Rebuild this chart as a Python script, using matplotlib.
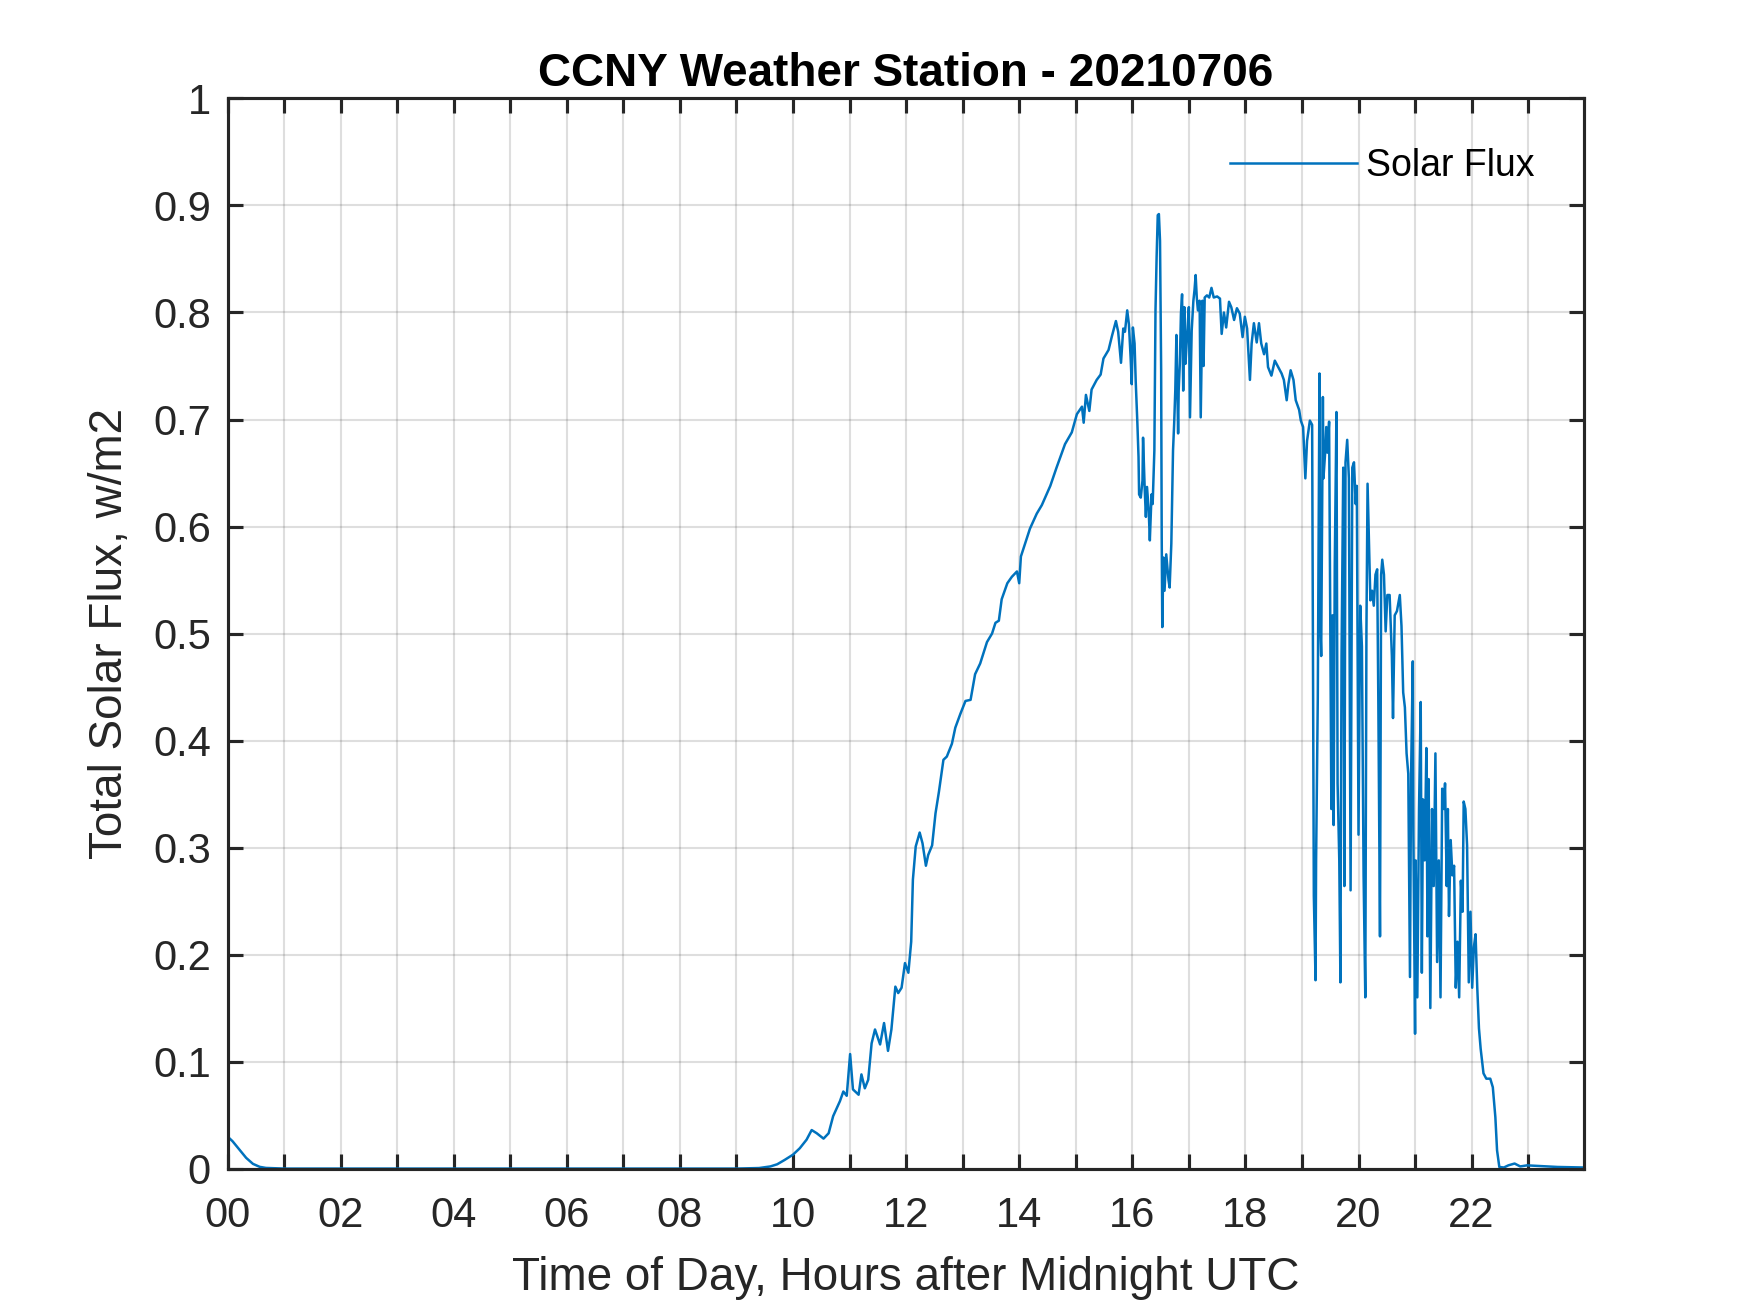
import matplotlib
matplotlib.use("Agg")
import matplotlib.pyplot as plt
from matplotlib.ticker import FixedLocator, FixedFormatter

plt.rcParams['font.family'] = ['Liberation Sans', 'DejaVu Sans']

# Data (hours after midnight UTC, solar flux)
hours = [
    0.00, 0.09, 0.21, 0.33, 0.45, 0.57, 0.68, 0.86, 1.00, 3.00, 6.00, 9.00,
    9.40, 9.60, 9.72, 9.85, 10.00, 10.12, 10.24, 10.33, 10.42, 10.54, 10.63,
    10.71, 10.83, 10.89, 10.95, 11.01, 11.06, 11.16, 11.21, 11.27, 11.33,
    11.39, 11.45, 11.54, 11.61, 11.68, 11.74, 11.81, 11.86, 11.92, 11.98,
    12.04, 12.09, 12.12, 12.17, 12.24, 12.29, 12.35, 12.39, 12.46, 12.52,
    12.58, 12.66, 12.72, 12.81, 12.87, 12.96, 13.05, 13.14, 13.22, 13.31,
    13.43, 13.52, 13.58, 13.64, 13.69, 13.79, 13.87, 13.96, 14.00, 14.03,
    14.11, 14.19, 14.31, 14.40, 14.55, 14.66, 14.81, 14.93, 15.02, 15.11,
    15.14, 15.18, 15.24, 15.28, 15.37, 15.44, 15.49, 15.58, 15.64, 15.71,
    15.75, 15.80, 15.84, 15.87, 15.91, 15.94, 15.97, 15.99, 16.01, 16.04,
    16.06, 16.09, 16.11, 16.12, 16.15, 16.18, 16.19, 16.22, 16.24, 16.26,
    16.29, 16.31, 16.34, 16.36, 16.39, 16.41, 16.43, 16.45, 16.47, 16.49,
    16.51, 16.52, 16.53, 16.55, 16.57, 16.60, 16.64, 16.66, 16.69, 16.72,
    16.74, 16.76, 16.78, 16.81, 16.82, 16.84, 16.86, 16.88, 16.90, 16.92,
    16.94, 16.97, 17.00, 17.02, 17.05, 17.08, 17.10, 17.12, 17.14, 17.16,
    17.19, 17.21, 17.24, 17.26, 17.28, 17.32, 17.36, 17.40, 17.44, 17.50,
    17.55, 17.58, 17.62, 17.66, 17.71, 17.75, 17.80, 17.85, 17.90, 17.95,
    17.99, 18.03, 18.08, 18.11, 18.15, 18.20, 18.24, 18.28, 18.33, 18.37,
    18.40, 18.46, 18.52, 18.58, 18.64, 18.68, 18.73, 18.76, 18.80, 18.85,
    18.89, 18.95, 18.98, 19.02, 19.06, 19.09, 19.14, 19.18,
    19.21, 19.24, 19.25, 19.28, 19.31, 19.32, 19.34, 19.37, 19.38, 19.41,
    19.43, 19.45, 19.48, 19.50, 19.52, 19.54, 19.56, 19.58, 19.61, 19.63,
    19.66, 19.68, 19.70, 19.73, 19.75, 19.77, 19.80, 19.83, 19.86, 19.89,
    19.92, 19.95, 19.97, 20.00, 20.03, 20.06, 20.09, 20.12, 20.14, 20.16,
    20.18, 20.21, 20.24, 20.27, 20.30, 20.33, 20.35, 20.38, 20.40, 20.42,
    20.45, 20.48, 20.51, 20.55, 20.59, 20.61, 20.64, 20.68, 20.73, 20.76,
    20.79, 20.82, 20.85, 20.88, 20.91, 20.93, 20.96, 20.97, 21.00, 21.01,
    21.04, 21.07, 21.10, 21.12, 21.14, 21.17, 21.20, 21.22, 21.24, 21.27,
    21.30, 21.33, 21.36, 21.39, 21.42, 21.45, 21.48, 21.51, 21.53, 21.56,
    21.58, 21.60, 21.63, 21.66, 21.69, 21.72, 21.75, 21.78, 21.81, 21.84,
    21.86, 21.89, 21.92, 21.95, 21.98, 22.01, 22.04, 22.07, 22.10, 22.13,
    22.16, 22.21, 22.26, 22.33, 22.375, 22.42, 22.45, 22.49, 22.57, 22.65,
    22.76, 22.86, 22.98, 23.16, 23.52, 23.983,
]
flux = [
    0.030, 0.0255, 0.0178, 0.010, 0.0044, 0.0016, 0.0006, 0.0003, 0.0, 0.0, 0.0, 0.0,
    0.0005, 0.002, 0.004, 0.008, 0.013, 0.019, 0.027, 0.036, 0.033, 0.028, 0.033,
    0.049, 0.063, 0.072, 0.068, 0.107, 0.074, 0.069, 0.088, 0.075, 0.083,
    0.117, 0.130, 0.116, 0.136, 0.110, 0.130, 0.170, 0.164, 0.169, 0.192,
    0.183, 0.212, 0.270, 0.301, 0.314, 0.304, 0.283, 0.293, 0.302, 0.332,
    0.352, 0.382, 0.385, 0.397, 0.412, 0.425, 0.437, 0.438, 0.462, 0.472,
    0.492, 0.500, 0.510, 0.512, 0.532, 0.547, 0.553, 0.558, 0.547, 0.572,
    0.585, 0.598, 0.612, 0.620, 0.638, 0.655, 0.677, 0.688, 0.705, 0.712,
    0.697, 0.723, 0.708, 0.728, 0.737, 0.742, 0.757, 0.765, 0.778, 0.792,
    0.782, 0.753, 0.785, 0.782, 0.802, 0.789, 0.758, 0.733, 0.786, 0.771,
    0.736, 0.696, 0.665, 0.630, 0.627, 0.643, 0.683, 0.634, 0.609, 0.637,
    0.615, 0.587, 0.630, 0.621, 0.671, 0.802, 0.852, 0.891, 0.892, 0.867,
    0.746, 0.590, 0.506, 0.571, 0.540, 0.574, 0.550, 0.543, 0.584, 0.671,
    0.696, 0.727, 0.779, 0.687, 0.727, 0.752, 0.799, 0.817, 0.727, 0.805,
    0.752, 0.780, 0.805, 0.702, 0.783, 0.811, 0.821, 0.835, 0.814, 0.802,
    0.811, 0.702, 0.811, 0.750, 0.814, 0.816, 0.814, 0.823, 0.814, 0.815,
    0.813, 0.780, 0.800, 0.786, 0.810, 0.805, 0.793, 0.804, 0.799, 0.777,
    0.796, 0.785, 0.737, 0.771, 0.790, 0.772, 0.790, 0.771, 0.761, 0.771,
    0.749, 0.741, 0.755, 0.749, 0.743, 0.737, 0.718, 0.733, 0.746, 0.737,
    0.718, 0.709, 0.699, 0.693, 0.645, 0.680, 0.699, 0.695,
    0.255, 0.176, 0.288, 0.440, 0.743, 0.517, 0.479, 0.721, 0.645, 0.669,
    0.693, 0.669, 0.698, 0.517, 0.336, 0.517, 0.321, 0.564, 0.707, 0.360,
    0.288, 0.174, 0.479, 0.655, 0.264, 0.660, 0.681, 0.645, 0.260, 0.655,
    0.660, 0.621, 0.638, 0.312, 0.526, 0.488, 0.274, 0.160, 0.502, 0.640,
    0.598, 0.531, 0.540, 0.526, 0.555, 0.560, 0.440, 0.217, 0.555, 0.569,
    0.555, 0.502, 0.536, 0.536, 0.479, 0.421, 0.517, 0.521, 0.536, 0.507,
    0.445, 0.431, 0.388, 0.369, 0.179, 0.369, 0.474, 0.312, 0.126, 0.288,
    0.160, 0.336, 0.436, 0.183, 0.345, 0.288, 0.393, 0.217, 0.364, 0.150,
    0.336, 0.264, 0.388, 0.193, 0.288, 0.160, 0.355, 0.336, 0.360, 0.264,
    0.336, 0.236, 0.307, 0.274, 0.283, 0.169, 0.212, 0.160, 0.269, 0.240,
    0.343, 0.336, 0.302, 0.174, 0.240, 0.169, 0.207, 0.219, 0.169, 0.131,
    0.112, 0.089, 0.084, 0.084, 0.076, 0.048, 0.017, 0.0015, 0.001, 0.003,
    0.0047, 0.002, 0.003, 0.0025, 0.0015, 0.001,
]

x_tick_hours = list(range(0, 24))
x_tick_labels = [f"{h:02d}" if h % 2 == 0 else "" for h in x_tick_hours]
y_ticks = [0.0, 0.1, 0.2, 0.3, 0.4, 0.5, 0.6, 0.7, 0.8, 0.9, 1.0]
y_tick_labels = ["0", "0.1", "0.2", "0.3", "0.4", "0.5", "0.6", "0.7", "0.8", "0.9", "1"]

title_text = "CCNY Weather Station - 20210706"
xlabel_text = "Time of Day, Hours after Midnight UTC"
ylabel_text = "Total Solar Flux, w/m2"
series_name = "Solar Flux"

fig = plt.figure(figsize=(1750 / 300, 1313 / 300), dpi=300)
ax = fig.add_axes([0.13, 0.11, 0.775, 0.815])

dark = '#262626'
ax.plot(hours, flux, color='#0072BD', linewidth=0.6, label=series_name)

ax.set_xlim(0, 23.983)
ax.set_ylim(0, 1)
ax.xaxis.set_major_locator(FixedLocator(x_tick_hours))
ax.xaxis.set_major_formatter(FixedFormatter(x_tick_labels))
ax.yaxis.set_major_locator(FixedLocator(y_ticks))
ax.yaxis.set_major_formatter(FixedFormatter(y_tick_labels))

ax.grid(True, color=dark, alpha=0.15, linewidth=0.5)
ax.set_axisbelow(True)
for s in ax.spines.values():
    s.set_color(dark)
    s.set_linewidth(0.75)
ax.tick_params(direction='in', length=3.5, width=0.75, color=dark,
               labelsize=10, labelcolor=dark, top=True, right=True)
ax.tick_params(axis='x', pad=6.5)
ax.tick_params(axis='y', pad=4)

ax.set_title(title_text, fontsize=11, fontweight='bold', color='black', pad=3)
ax.set_xlabel(xlabel_text, fontsize=11, color=dark, labelpad=5)
ax.set_ylabel(ylabel_text, fontsize=11, color=dark, labelpad=5)

ax.legend(loc='center right', bbox_to_anchor=(0.964, 0.937), frameon=False,
          fontsize=9, handlelength=3.37, handletextpad=0.26, borderpad=0,
          borderaxespad=0)

fig.savefig("out.png", dpi=300, facecolor='white')
